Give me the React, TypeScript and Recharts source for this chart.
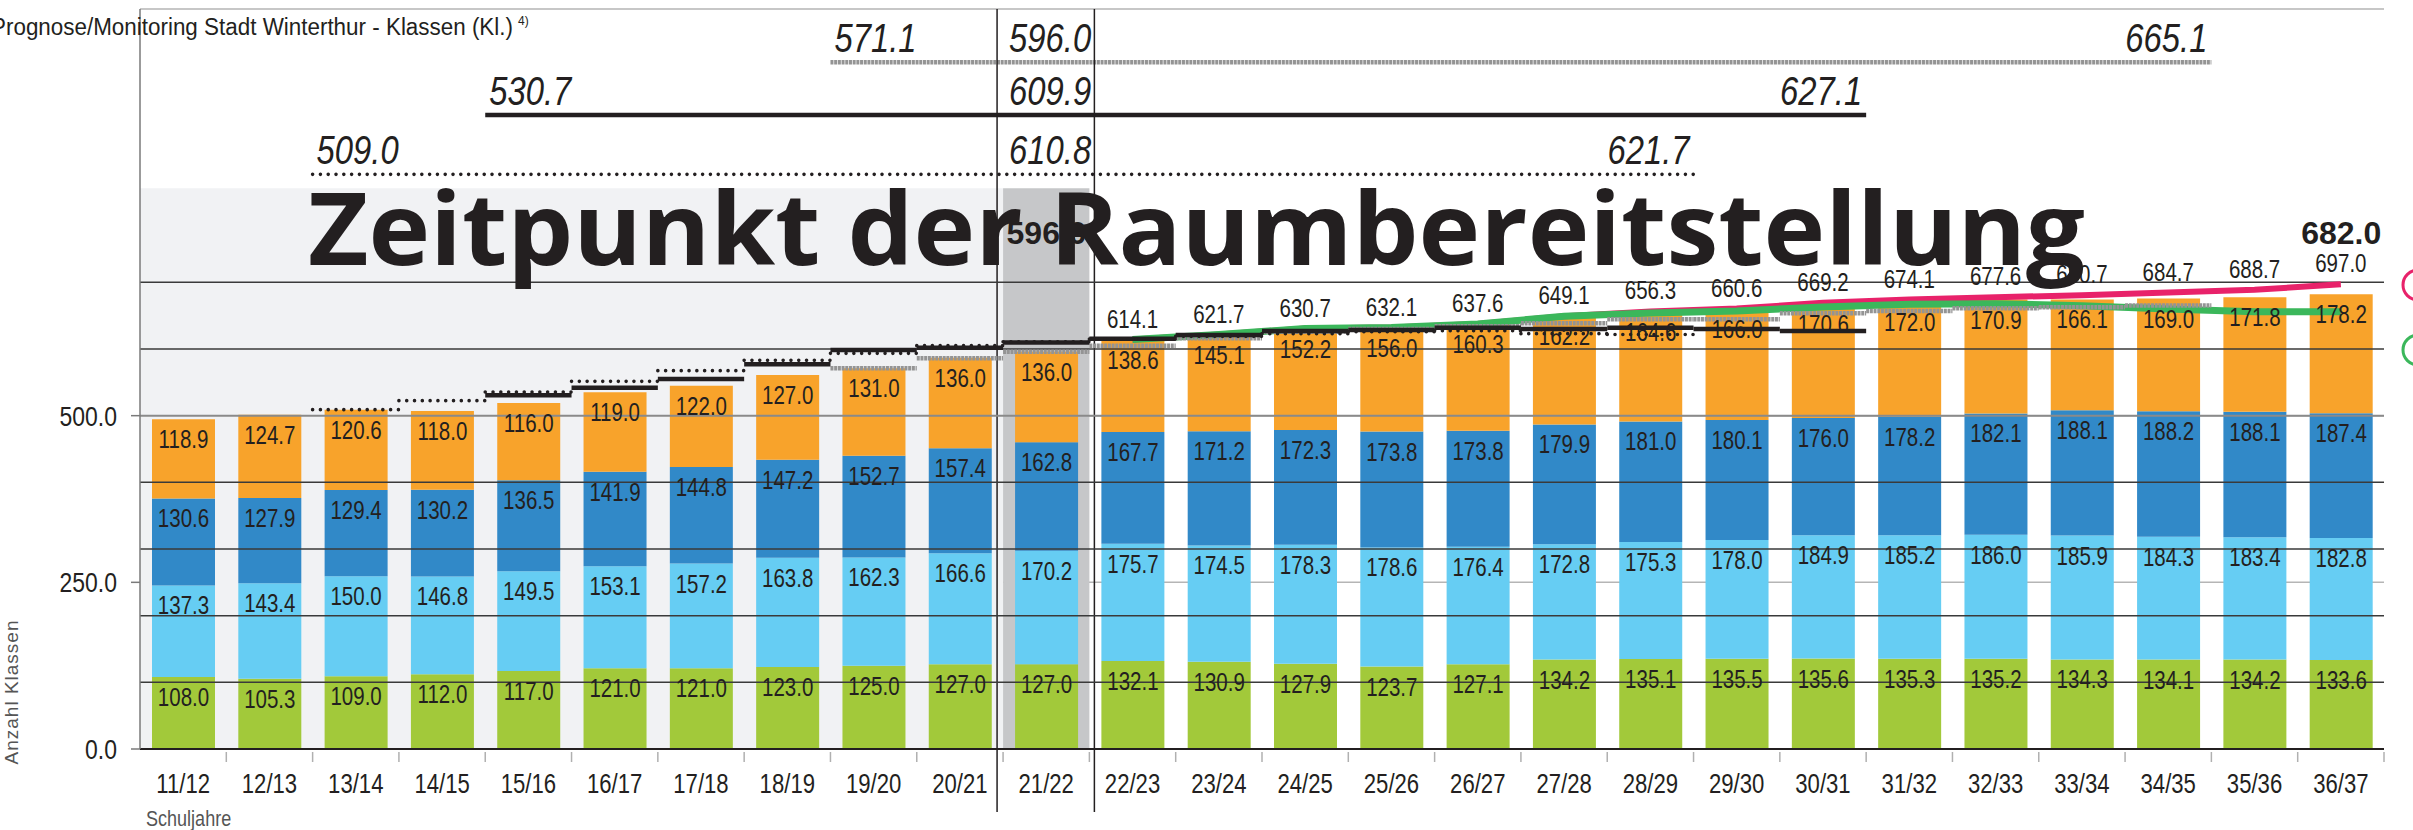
import React from 'react';
import {
  ComposedChart,
  Bar,
  Line,
  XAxis,
  YAxis,
  CartesianGrid,
  ReferenceArea,
  ReferenceLine,
  LabelList,
} from 'recharts';

// school years on the x axis
const categories = [
  '11/12', '12/13', '13/14', '14/15', '15/16', '16/17', '17/18', '18/19', '19/20', '20/21',
  '21/22', '22/23', '23/24', '24/25', '25/26', '26/27', '27/28', '28/29', '29/30', '30/31',
  '31/32', '32/33', '33/34', '34/35', '35/36', '36/37',
];

// stacked classes per level (bottom -> top)
const kindergarten = [108.0, 105.3, 109.0, 112.0, 117.0, 121.0, 121.0, 123.0, 125.0, 127.0, 127.0, 132.1, 130.9, 127.9, 123.7, 127.1, 134.2, 135.1, 135.5, 135.6, 135.3, 135.2, 134.3, 134.1, 134.2, 133.6];
const unterstufe = [137.3, 143.4, 150.0, 146.8, 149.5, 153.1, 157.2, 163.8, 162.3, 166.6, 170.2, 175.7, 174.5, 178.3, 178.6, 176.4, 172.8, 175.3, 178.0, 184.9, 185.2, 186.0, 185.9, 184.3, 183.4, 182.8];
const mittelstufe = [130.6, 127.9, 129.4, 130.2, 136.5, 141.9, 144.8, 147.2, 152.7, 157.4, 162.8, 167.7, 171.2, 172.3, 173.8, 173.8, 179.9, 181.0, 180.1, 176.0, 178.2, 182.1, 188.1, 188.2, 188.1, 187.4];
const oberstufe = [118.9, 124.7, 120.6, 118.0, 116.0, 119.0, 122.0, 127.0, 131.0, 136.0, 136.0, 138.6, 145.1, 152.2, 156.0, 160.3, 162.2, 164.6, 166.0, 170.6, 172.0, 170.9, 166.1, 169.0, 171.8, 178.2];

// forecast lines
const N = null;
const prognose = [N, N, N, N, N, N, N, N, N, N, N, 614.1, 621.7, 630.7, 632.1, 637.6, 649.1, 656.3, 660.6, 669.2, 674.1, 677.6, 680.7, 684.7, 688.7, 697.0];
const monitoring = [N, N, N, N, N, N, N, N, N, N, N, 614.1, 621.7, 630.7, 632.1, 637.6, 649.1, 654.0, 657.0, 663.0, 667.0, 668.0, 665.0, 660.0, 656.0, 656.0];

// older forecasts, drawn as per-year steps
const prognose2013 = [N, N, 509.0, 522.5, 535.5, 551.5, 567.5, 583.0, 593.5, 605.0, 610.8, 615.0, 619.0, 623.0, 626.0, 627.5, 623.0, 621.7, N, N, N, N, N, N, N, N];
const prognose2015 = [N, N, N, N, 530.7, 542.0, 555.0, 577.0, 598.5, 602.0, 609.9, 615.5, 621.0, 627.0, 628.5, 632.0, 630.0, 632.0, 630.0, 627.1, N, N, N, N, N, N];
const prognose2019 = [N, N, N, N, N, N, N, N, 571.1, 586.0, 596.0, 605.0, 616.0, 626.0, 630.0, 634.0, 638.5, 644.5, 644.5, 653.5, 657.0, 661.0, 662.5, 665.1, N, N];

const boldTotalYears = ['21/22', '36/37'];
const currentYear = '21/22';
const yTicks = [0, 250, 500];
const darkGrid = [100, 200, 300, 400, 600, 700];

const data = categories.map((cat, i) => {
  const total = kindergarten[i] + unterstufe[i] + mittelstufe[i] + oberstufe[i];
  return {
    cat,
    kg: kindergarten[i],
    us: unterstufe[i],
    ms: mittelstufe[i],
    os: oberstufe[i],
    bold: boldTotalYears.includes(cat) ? Math.round(total * 10) / 10 : null,
    prognose: prognose[i],
    monitoring: monitoring[i],
    p2013: prognose2013[i],
    p2015: prognose2015[i],
    p2019: prognose2019[i],
  };
});

// layout
const W = 2413;
const H = 830;
const Y_MAX = 1110;
const MARGIN = { top: 9, right: 29, left: 0, bottom: 0 };
const Y_AXIS_W = 140;
const X_AXIS_H = 81;
const PLOT_W = W - MARGIN.right - Y_AXIS_W;
const PLOT_H = H - MARGIN.top - X_AXIS_H;
const BAND_W = PLOT_W / categories.length;
const yPx = (v: number) => MARGIN.top + PLOT_H * (1 - v / Y_MAX);

// Liberation Sans squeezed to 82% = Arial Narrow metrics
const SANS = '"Liberation Sans", Arial, sans-serif';
const NARROW_SCALE = 0.82;
const INK = '#231f20';

const stepStyles: Record<string, any> = {
  p2013: { stroke: INK, strokeWidth: 3.6, strokeDasharray: '0 7.8', strokeLinecap: 'round' },
  p2015: { stroke: INK, strokeWidth: 4.5 },
  p2019: { stroke: '#949494', strokeWidth: 4.5, strokeDasharray: '3 0.7' },
};
const seriesByKey: Record<string, (number | null)[]> = {
  p2013: prognose2013,
  p2015: prognose2015,
  p2019: prognose2019,
};
// header rows (heights in value units of the chart)
const headerRows = [
  { key: 'p2019', level: 1030 },
  { key: 'p2015', level: 951 },
  { key: 'p2013', level: 862 },
];

const fmt = (v: any) => (typeof v === 'number' ? v.toFixed(1) : '');

const NText = ({ x, y, anchor = 'middle', size, children, ...rest }: any) => (
  <text
    transform={`translate(${x},${y}) scale(${NARROW_SCALE},1)`}
    textAnchor={anchor}
    fontSize={size}
    fontFamily={SANS}
    fill={INK}
    {...rest}
  >
    {children}
  </text>
);

const stepDot = (key: string) => (props: any) => {
  const { cx, cy, value, index } = props;
  if (value == null || cy == null || Number.isNaN(cy)) return <g key={`${key}-${index}`} />;
  return (
    <line
      key={`${key}-${index}`}
      x1={cx - BAND_W / 2}
      x2={cx + BAND_W / 2}
      y1={cy}
      y2={cy}
      {...stepStyles[key]}
    />
  );
};

const headerShape = (key: string) => (props: any) => {
  const { x, y, width, height } = props;
  const vals = seriesByKey[key];
  const first = vals.findIndex((v) => v != null);
  let last = vals.length - 1;
  while (vals[last] == null) last--;
  const mid = categories.indexOf(currentYear);
  const bw = width / (last - first + 1);
  const ly = y + height / 2;
  return (
    <g>
      <line x1={x} x2={x + width} y1={ly} y2={ly} {...stepStyles[key]} />
      <NText x={x + 4} y={ly - 10} anchor="start" size={40} fontStyle="italic">{fmt(vals[first])}</NText>
      <NText x={x + (mid - first) * bw + 6} y={ly - 10} anchor="start" size={40} fontStyle="italic">{fmt(vals[mid])}</NText>
      <NText x={x + width - 4} y={ly - 10} anchor="end" size={40} fontStyle="italic">{fmt(vals[last])}</NText>
    </g>
  );
};

const XTick = (props: any) => {
  const { x, y, payload } = props;
  return (
    <g>
      <NText x={x} y={y + 36} size={27}>{payload.value}</NText>
      <line x1={x + BAND_W / 2} x2={x + BAND_W / 2} y1={y - 5} y2={y + 5} stroke="#b0b0b0" strokeWidth={1.5} />
    </g>
  );
};

const YTick = (props: any) => {
  const { x, y, payload } = props;
  return (
    <NText x={x} y={y} anchor="end" size={28} dy="0.36em">
      {fmt(payload.value)}
    </NText>
  );
};

const barLabel = (props: any) => {
  if (props.value == null) return null;
  const vb = props.viewBox || props;
  return (
    <NText x={vb.x + vb.width / 2} y={vb.y + 29} size={25}>
      {fmt(props.value)}
    </NText>
  );
};

const lineLabel = (props: any) => {
  if (props.value == null) return null;
  const vb = props.viewBox || props;
  return (
    <NText x={vb.x + (vb.width || 0) / 2} y={vb.y - 12} size={25}>
      {fmt(props.value)}
    </NText>
  );
};

const BoldTotal = (props: any) => {
  const { value } = props;
  if (value == null) return null;
  const vb = props.viewBox || props;
  return (
    <text
      x={vb.x + vb.width / 2}
      y={yPx(757)}
      textAnchor="middle"
      fontFamily={SANS}
      fontWeight={700}
      fontSize={32}
      fill={INK}
    >
      {fmt(value)}
    </text>
  );
};

const Stellung: React.FC = () => {
  return (
    <div style={{ position: 'relative', width: W, height: H, background: '#fff' }}>
      <style>{'body{margin:0}'}</style>
      <ComposedChart width={W} height={H} data={data} margin={MARGIN}>
        {/* past years shaded, current year darker */}
        <ReferenceArea x1={categories[0]} x2="20/21" y1={0} y2={841} fill="#f1f2f4" fillOpacity={1} stroke="none" />
        <ReferenceArea x1={currentYear} x2={currentYear} y1={0} y2={841} fill="#c6c7c9" fillOpacity={1} stroke="none" />
        <CartesianGrid vertical={false} stroke="#b5b5b5" strokeWidth={1.5} />
        <XAxis
          dataKey="cat"
          interval={0}
          height={X_AXIS_H}
          tickLine={false}
          axisLine={{ stroke: INK, strokeWidth: 2 }}
          tick={(p: any) => <XTick {...p} />}
        />
        <YAxis
          domain={[0, Y_MAX]}
          ticks={yTicks}
          width={Y_AXIS_W}
          axisLine={{ stroke: '#7a7a7a', strokeWidth: 1.5 }}
          tickLine={{ stroke: '#7a7a7a', strokeWidth: 1.5 }}
          tickSize={9}
          tickMargin={14}
          tick={(p: any) => <YTick {...p} />}
          allowDataOverflow
        />
        <YAxis
          yAxisId="right"
          orientation="right"
          domain={[0, Y_MAX]}
          width={0}
          tick={false}
          tickLine={false}
          axisLine={{ stroke: '#9a9a9a', strokeWidth: 2 }}
        />
        <Bar dataKey="kg" stackId="s" barSize={63} fill="#a2c93a" isAnimationActive={false}>
          <LabelList dataKey="kg" content={barLabel} />
        </Bar>
        <Bar dataKey="us" stackId="s" barSize={63} fill="#66cdf3" isAnimationActive={false}>
          <LabelList dataKey="us" content={barLabel} />
        </Bar>
        <Bar dataKey="ms" stackId="s" barSize={63} fill="#3189c8" isAnimationActive={false}>
          <LabelList dataKey="ms" content={barLabel} />
        </Bar>
        <Bar dataKey="os" stackId="s" barSize={63} fill="#f8a32b" isAnimationActive={false}>
          <LabelList dataKey="os" content={barLabel} />
          <LabelList dataKey="bold" content={BoldTotal} />
        </Bar>
        {darkGrid.map((v) => (
          <ReferenceLine key={v} y={v} stroke="#3a3a3a" strokeWidth={1.5} />
        ))}
        <ReferenceLine y={500} stroke="#8a8a8a" strokeWidth={2} />
        {['p2019', 'p2015', 'p2013'].map((k) => (
          <Line
            key={k}
            dataKey={k}
            stroke="none"
            strokeWidth={0}
            dot={stepDot(k)}
            activeDot={false}
            legendType="none"
            isAnimationActive={false}
          />
        ))}
        <Line
          dataKey="prognose"
          stroke="#e8226a"
          strokeWidth={6}
          dot={false}
          activeDot={false}
          isAnimationActive={false}
        >
          <LabelList dataKey="prognose" content={lineLabel} />
        </Line>
        <Line
          dataKey="monitoring"
          stroke="#3bb75b"
          strokeWidth={7}
          dot={false}
          activeDot={false}
          isAnimationActive={false}
        />
        {headerRows.map((r) => {
          const vals = seriesByKey[r.key];
          const first = vals.findIndex((v) => v != null);
          let last = vals.length - 1;
          while (vals[last] == null) last--;
          return (
            <ReferenceArea
              key={r.key}
              x1={categories[first]}
              x2={categories[last]}
              y1={r.level - 3}
              y2={r.level + 3}
              ifOverflow="visible"
              shape={headerShape(r.key)}
            />
          );
        })}
        <ReferenceArea
          x1={currentYear}
          x2={currentYear}
          y1={0}
          y2={Y_MAX}
          ifOverflow="visible"
          shape={(p: any) => (
            <g>
              <line x1={p.x - 6} x2={p.x - 6} y1={p.y} y2={p.y + p.height + 63} stroke={INK} strokeWidth={1.5} />
              <line x1={p.x + p.width + 5} x2={p.x + p.width + 5} y1={p.y} y2={p.y + p.height + 63} stroke={INK} strokeWidth={1.5} />
            </g>
          )}
        />
      </ComposedChart>
      <svg width={W} height={H} style={{ position: 'absolute', left: 0, top: 0, pointerEvents: 'none' }}>
        <text x={-9} y={35} fontFamily={SANS} fontSize={23} fill={INK} textLength={522} lengthAdjust="spacingAndGlyphs">
          Prognose/Monitoring Stadt Winterthur - Klassen (Kl.)
        </text>
        <text x={518} y={25} fontFamily={SANS} fontSize={12} fill={INK}>4)</text>
        <text
          transform="translate(18,692) rotate(-90)"
          textAnchor="middle"
          fontFamily={SANS}
          fontSize={19}
          letterSpacing={1}
          fill="#555"
        >
          Anzahl Klassen
        </text>
        <NText x={146} y={826} anchor="start" size={22} fill="#555">Schuljahre</NText>
        <circle cx={2418} cy={285} r={15} fill="none" stroke="#e8226a" strokeWidth={3} />
        <circle cx={2418} cy={350} r={15} fill="none" stroke="#3bb75b" strokeWidth={3} />
        <text
          x={308}
          y={265}
          fontFamily='"Open Sans", "Liberation Sans", sans-serif'
          fontWeight={700}
          fontSize={101}
          fill={INK}
          textLength={1777}
          lengthAdjust="spacingAndGlyphs"
        >
          Zeitpunkt der Raumbereitstellung
        </text>
      </svg>
    </div>
  );
};

export default Stellung;
